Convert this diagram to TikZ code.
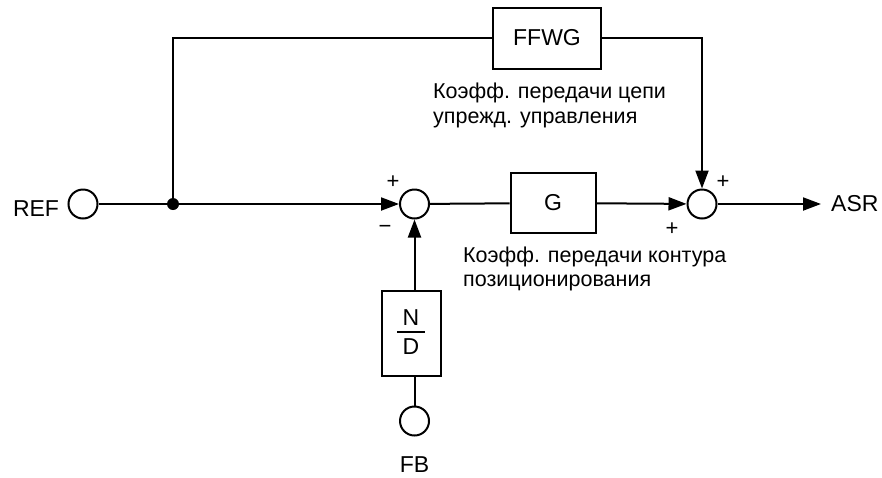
\documentclass[tikz,border=0pt]{standalone}
\usepackage{fontspec}
\setmainfont{Liberation Sans}
\usetikzlibrary{arrows.meta}
\begin{document}
\begin{tikzpicture}[x=1pt,y=-1pt,
  ln/.style={line width=2pt},
  arr/.style={line width=2pt,-{Triangle[length=18pt,width=13pt]}},
  port/.style={circle,draw,line width=2pt,minimum size=29pt,inner sep=0pt},
  blk/.style={draw,line width=2pt,inner sep=0pt,font=\fontsize{23}{27}\selectfont},
  lbl/.style={font=\fontsize{23}{27}\selectfont,inner sep=0pt},
  sgn/.style={font=\fontsize{22}{24}\selectfont,inner sep=0pt},
  note/.style={font=\fontsize{21.5}{25}\selectfont,inner sep=0pt,anchor=base west}]
\useasboundingbox (0,0) rectangle (882,477);

% ports and junctions
\node[port] (ref) at (83,204) {};
\node[lbl] (reft) at (36,209) {REF};
\node[circle,fill,inner sep=0pt,minimum size=12pt] (dot) at (173,204) {};
\node[port] (s1) at (414.5,204) {};
\node[port] (s2) at (702,204) {};
\node[lbl,anchor=west] (asr) at (831,204) {ASR};
\coordinate (asrin) at (821,204);

% blocks
\node[blk,minimum width=108pt,minimum height=61pt] (ffwg) at (547,38) {FFWG};
\node[blk,minimum width=85pt,minimum height=60pt] (g) at (553,203) {G};
\node[blk,minimum width=59pt,minimum height=85pt] (nd) at (411.5,333.5) {};
\node[lbl] (num) at (411,318) {N};
\node[lbl] (den) at (411,346.5) {D};
\coordinate (barl) at (397,332);
\coordinate (barr) at (425,332);
\node[port] (fb) at (414.5,421) {};
\node[lbl] (fbt) at (414.5,465) {FB};

% corner coordinates
\coordinate (tl) at (173,38);
\coordinate (tr) at (702,38);

% connectors
\draw[ln] (ref) -- (dot);
\draw[arr] (dot) -- (s1);
\draw[ln] (dot.center) -- (tl) -- (ffwg.west);
\draw[arr] (ffwg.east) -- (tr) -- (s2);
\draw[ln] (s1) -- (g);
\draw[arr] (g) -- (s2);
\draw[arr] (s2) -- (asrin);
\draw[ln] (fb) -- (fb |- nd.south);
\draw[arr] (nd.north -| s1) -- (s1);
\draw[line width=1.6pt] (barl) -- (barr);

% signs
\node[sgn] (p1) at (393,182) {+};
\node[sgn] (m1) at (385,229) {−};
\node[sgn] (p2) at (723,182) {+};
\node[sgn] (p3) at (672,229) {+};

% notes
\node[note] (n1a) at (433,98) {Коэфф. передачи цепи};
\node[note] (n1b) at (433,123.5) {упрежд. управления};
\node[note] (n2a) at (463,262) {Коэфф. передачи контура};
\node[note] (n2b) at (463,286) {позиционирования};
\end{tikzpicture}
\end{document}
